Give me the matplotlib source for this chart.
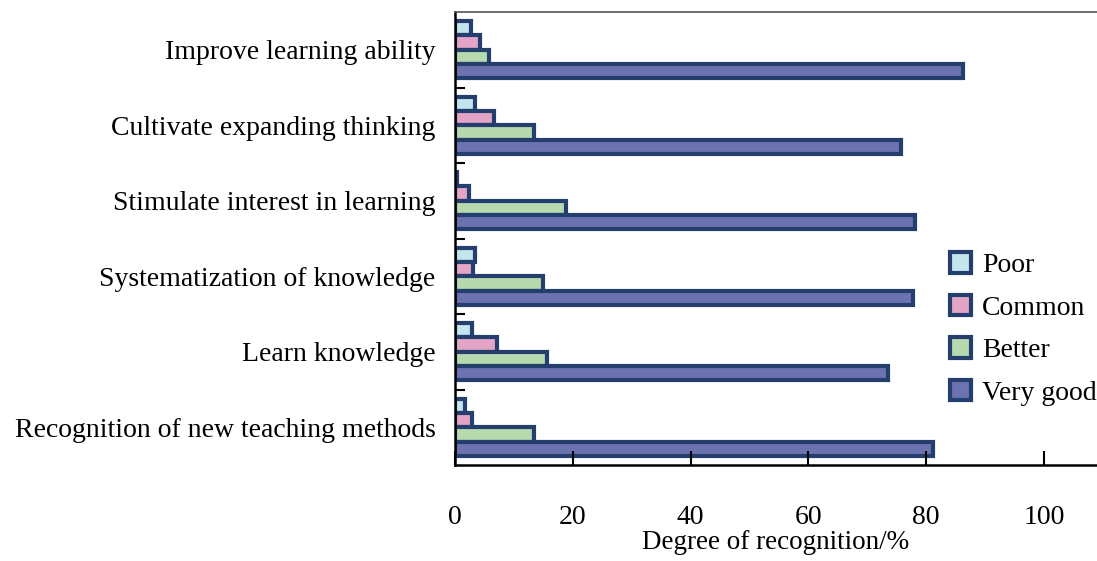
import matplotlib.pyplot as plt
import numpy as np

plt.rcParams['font.family'] = ['Liberation Serif', 'DejaVu Serif']

# Datos
categories = ['Improve learning ability', 'Cultivate expanding thinking',
              'Stimulate interest in learning', 'Systematization of knowledge',
              'Learn knowledge', 'Recognition of new teaching methods']
series = ['Poor', 'Common', 'Better', 'Very good']
poor = [2.7, 3.4, 0.3, 3.4, 2.9, 1.7]
common = [4.2, 6.6, 2.4, 3.0, 7.1, 2.9]
better = [5.8, 13.4, 18.8, 14.9, 15.6, 13.4]
very_good = [86.3, 75.8, 78.1, 77.8, 73.5, 81.2]
xticks = [0, 20, 40, 60, 80, 100]

colors = ['#c4e5ee', '#e3a4c5', '#b7d9ae', '#6d73b0']
edge = '#243f6d'

fig = plt.figure(figsize=(10.97, 5.61), dpi=100)
ax = fig.add_axes([0.4148, 0.1711, 0.5852, 0.8075])

y = np.arange(len(categories))
h = 0.19
values = [poor, common, better, very_good]
for i, (name, vals) in enumerate(zip(series, values)):
    ax.barh(y + (i - 1.5) * h, vals, height=h, color=colors[i],
            edgecolor=edge, linewidth=3, label=name)

ax.set_ylim(len(categories) - 0.5, -0.5)
ax.set_xlim(0, 109)
ax.set_yticks(y)
ax.set_yticklabels(categories, fontsize=20)
ax.set_yticks(np.arange(0.5, len(categories) - 0.5, 1), minor=True)
ax.tick_params(axis='y', which='major', length=0, pad=14)
ax.tick_params(axis='y', which='minor', direction='in', length=7, width=1.5)
ax.set_xticks(xticks)
ax.set_xticklabels([str(t) for t in xticks], fontsize=20)
ax.tick_params(axis='x', direction='in', length=10, width=1.5, pad=29)
ax.set_xlabel('Degree of recognition/%', fontsize=19.5, labelpad=0)

ax.spines['right'].set_visible(False)
for s in ['left', 'bottom']:
    ax.spines[s].set_linewidth(1.8)
ax.spines['top'].set_linewidth(1.2)
ax.spines['top'].set_color('#555555')

ax.legend(loc='center left', bbox_to_anchor=(0.771, 0.30), frameon=False,
          fontsize=20, handlelength=0.75, handleheight=0.75, handletextpad=0.4,
          labelspacing=0.6, borderpad=0, borderaxespad=0)

plt.savefig('out.png', dpi=100)
plt.close()
